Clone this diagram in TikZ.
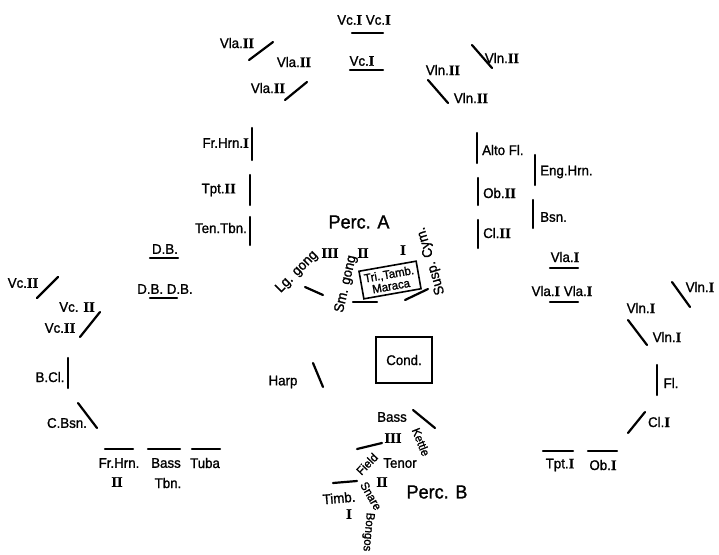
\documentclass[tikz,border=0pt]{standalone}
\usepackage{fontspec}
\setmainfont{Liberation Sans}[FakeStretch=0.95,FakeBold=1.2]
\newfontfamily\numf{Liberation Serif}[FakeBold=0.5]
\newcommand\rn[1]{{\numf\bfseries\fontsize{14.5}{14}\selectfont #1}}
\begin{document}
\begin{tikzpicture}[x=1pt,y=-1pt,
  lbl/.style={inner sep=0pt,font=\fontsize{14}{14}\selectfont},
  smlbl/.style={inner sep=0pt,font=\fontsize{12}{12}\selectfont},
  biglbl/.style={inner sep=0pt,font=\fontsize{19}{20}\selectfont},
  stand/.style={line width=2.2pt,line cap=round},
  framebox/.style={draw,line width=1.6pt,inner sep=2pt}]
\useasboundingbox (0,0) rectangle (719,554);

% ---- top: cellos I, violas II, violins II
\node[lbl] (vcIa) at (364,20) {Vc.\rn{I} Vc.\rn{I}};
\draw[stand] (352,33) -- (383,33);
\node[lbl] (vcIb) at (362,61) {Vc.\rn{I}};
\draw[stand] (350,70) -- (383,70);
\node[lbl] (vlaIIa) at (237,43) {Vla.\rn{II}};
\draw[stand] (273,42) -- (249,60);
\node[lbl] (vlaIIb) at (294,62) {Vla.\rn{II}};
\node[lbl] (vlaIIc) at (268,88) {Vla.\rn{II}};
\draw[stand] (307,82) -- (285,100);
\node[lbl] (vlnIIa) at (502,58) {Vln.\rn{II}};
\draw[stand] (472,45) -- (492,68);
\node[lbl] (vlnIIb) at (443,70) {Vln.\rn{II}};
\node[lbl] (vlnIIc) at (471,98) {Vln.\rn{II}};
\draw[stand] (428,80) -- (448,103);

% ---- left brass
\node[lbl,anchor=east] (frhrnI) at (249,143) {Fr.Hrn.\rn{I}};
\draw[stand] (252,128) -- (252,160);
\node[lbl,anchor=east] (tptII) at (236,190) {Tpt.\rn{II}};
\draw[stand] (250,175) -- (250,205);
\node[lbl,anchor=east] (tentbn) at (247,228) {Ten.Tbn.};
\draw[stand] (250,217) -- (250,245);

% ---- right woodwinds
\draw[stand] (477,133) -- (477,163);
\node[lbl,anchor=west] (altofl) at (482,150) {Alto Fl.};
\draw[stand] (478,178) -- (478,205);
\node[lbl,anchor=west] (obII) at (483,193) {Ob.\rn{II}};
\draw[stand] (478,220) -- (478,248);
\node[lbl,anchor=west] (clII) at (483,233) {Cl.\rn{II}};
\draw[stand] (535,155) -- (535,185);
\node[lbl,anchor=west] (enghrn) at (540,172) {Eng.Hrn.};
\draw[stand] (533,200) -- (533,228);
\node[lbl,anchor=west] (bsn) at (540,217) {Bsn.};

% ---- Percussion A
\node[biglbl] (percA) at (359,222) {Perc. A};
\node[lbl] (pAIII) at (330,253) {\rn{III}};
\node[lbl] (pAII) at (363,253) {\rn{II}};
\node[lbl] (pAI) at (403,250) {\rn{I}};
\node[framebox,rotate=10,minimum width=58pt,minimum height=28pt,align=center,
  inner sep=1pt,font=\fontsize{12}{12}\selectfont] (tri) at (390,280) {Tri.,Tamb.\\Maraca};
\node[lbl,rotate=45] (lggong) at (297,272) {Lg. gong};
\draw[stand] (305,287) -- (323,295);
\node[lbl,rotate=77] (smgong) at (346,284) {Sm. gong};
\draw[stand] (353,302) -- (377,302);
\node[lbl,rotate=107] (suspcym) at (431,261) {Susp. Cym.};
\draw[stand] (405,300) -- (428,289);

% ---- conductor, harp
\node[framebox,minimum width=56pt,minimum height=46pt,lbl] (cond) at (404,360) {Cond.};
\node[lbl] (harp) at (283,382) {Harp};
\draw[stand] (313,363) -- (323,387);

% ---- Percussion B
\node[lbl] (bass) at (392,417) {Bass};
\draw[stand] (413,410) -- (435,428);
\node[smlbl,rotate=-68] (kettle) at (421,442) {Kettle};
\node[lbl] (pBIII) at (393,438) {\rn{III}};
\draw[stand] (357,449) -- (382,443);
\node[lbl] (tenor) at (400,463) {Tenor};
\node[smlbl,rotate=46] (field) at (367,464) {Field};
\node[lbl] (pBII) at (382,482) {\rn{II}};
\draw[stand] (333,483) -- (357,481);
\node[lbl,rotate=5] (timb) at (339,498) {Timb.};
\node[lbl] (pBI) at (349,514) {\rn{I}};
\node[smlbl,rotate=-60] (snare) at (371,496) {Snare};
\node[smlbl,rotate=-95] (bongos) at (368,532) {Bongos};
\node[biglbl] (percB) at (437,492) {Perc. B};

% ---- left: basses, cellos II, low winds, low brass
\node[lbl] (dba) at (165,249) {D.B.};
\draw[stand] (150,258) -- (178,258);
\node[lbl] (dbb) at (165,289) {D.B. D.B.};
\draw[stand] (150,298) -- (177,298);
\node[lbl] (vcIIa) at (23,283) {Vc.\rn{II}};
\draw[stand] (58,277) -- (37,298);
\node[lbl] (vcIIb) at (77,307) {Vc. \rn{II}};
\node[lbl] (vcIIc) at (60,328) {Vc.\rn{II}};
\draw[stand] (100,312) -- (80,337);
\node[lbl] (bcl) at (50,377) {B.Cl.};
\draw[stand] (68,358) -- (68,388);
\node[lbl] (cbsn) at (67,423) {C.Bsn.};
\draw[stand] (78,403) -- (97,428);
\draw[stand] (105,449) -- (133,449);
\draw[stand] (148,449) -- (180,449);
\draw[stand] (192,449) -- (220,449);
\node[lbl] (frhrnII) at (119,463) {Fr.Hrn.};
\node[lbl] (frhrnIIn) at (117,482) {\rn{II}};
\node[lbl] (basstbn) at (166,463) {Bass};
\node[lbl] (basstbnb) at (168,483) {Tbn.};
\node[lbl] (tuba) at (205,463) {Tuba};

% ---- right: violas I, violins I, flute, clarinet, trumpet, oboe
\node[lbl] (vlaIa) at (565,257) {Vla.\rn{I}};
\draw[stand] (550,268) -- (578,268);
\node[lbl] (vlaIb) at (562,291) {Vla.\rn{I} Vla.\rn{I}};
\draw[stand] (550,302) -- (578,302);
\node[lbl] (vlnIa) at (700,287) {Vln.\rn{I}};
\draw[stand] (672,282) -- (690,307);
\node[lbl] (vlnIb) at (641,308) {Vln.\rn{I}};
\node[lbl] (vlnIc) at (667,337) {Vln.\rn{I}};
\draw[stand] (628,320) -- (647,345);
\node[lbl] (fl) at (671,383) {Fl.};
\draw[stand] (657,365) -- (657,395);
\node[lbl] (clI) at (659,422) {Cl.\rn{I}};
\draw[stand] (645,412) -- (628,433);
\draw[stand] (543,451) -- (573,451);
\draw[stand] (588,451) -- (617,451);
\node[lbl] (tptI) at (560,465) {Tpt.\rn{I}};
\node[lbl] (obI) at (603,465) {Ob.\rn{I}};
\end{tikzpicture}
\end{document}
